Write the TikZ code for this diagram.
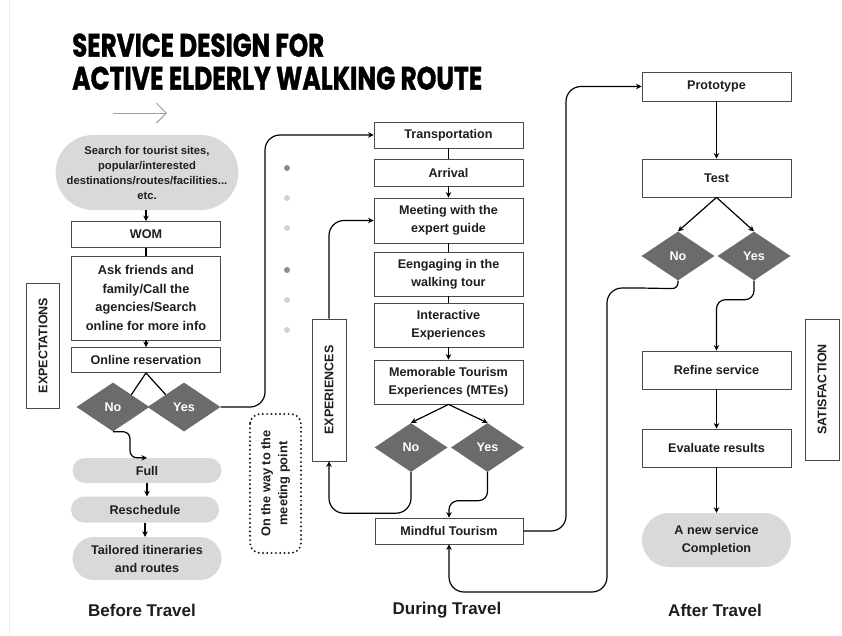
\documentclass[tikz,border=0pt]{standalone}
\usepackage{graphicx}
\usepackage{fontspec}
\setmainfont{Liberation Sans}
\newfontfamily\titlefont{Poppins}[BoldFeatures={FakeBold=1.3}]
\newfontfamily\tagfont{Liberation Sans}
\usetikzlibrary{shapes.geometric,shapes.misc,arrows.meta,calc}

\definecolor{ink}{HTML}{1E1E1E}
\definecolor{edge}{HTML}{4A4A4A}
\definecolor{pillgrey}{HTML}{D9D9D9}
\definecolor{diagrey}{HTML}{6B6B6B}
\definecolor{dotdark}{HTML}{8C8C8C}
\definecolor{dotlight}{HTML}{D2D2D2}
\definecolor{decogrey}{HTML}{A0A0A0}
\definecolor{pagerule}{HTML}{EEEEEE}

\tikzset{
  base/.style={font=\bfseries\fontsize{12.6}{18}\selectfont, text=ink, align=center, inner sep=0pt},
  stepbox/.style={base, draw=edge, line width=0.8pt, fill=white, minimum width=149pt},
  pill/.style={base, rounded rectangle, fill=pillgrey, minimum width=149pt},
  choice/.style={diamond, fill=diagrey, text=white, font=\bfseries\fontsize{12.6}{14}\selectfont,
                 minimum width=73pt, minimum height=49pt, inner sep=0pt},
  tag/.style={draw=edge, line width=0.8pt, minimum height=33pt, inner sep=0pt,
              font=\tagfont\bfseries\fontsize{12.5}{14}\selectfont, text=ink, rotate=90},
  waybox/.style={base, draw=ink, line width=2.2pt, dash pattern=on 0pt off 4.3pt, line cap=round,
                 rounded corners=10pt, rotate=90, font=\bfseries\fontsize{12.8}{17}\selectfont},
  arr/.style={-{Stealth[length=5.5pt,width=5.5pt]}, line width=1.2pt, draw=black},
  link/.style={line width=1.2pt, draw=black},
  phase/.style={font=\bfseries\fontsize{17}{20}\selectfont, text=ink, inner sep=0pt},
  dot/.style={radius=3pt},
}

\begin{document}
\begin{tikzpicture}[x=1pt,y=-1pt]
\useasboundingbox (0,0) rectangle (842,635);
\fill[white] (0,0) rectangle (842,635);
\draw[pagerule, line width=0.8pt] (9,0) -- (9,635);

% title
\node[anchor=south west, inner sep=0pt] (title1) at (72,57)
  {\resizebox{252pt}{23pt}{\titlefont\bfseries SERVICE DESIGN FOR}};
\node[anchor=south west, inner sep=0pt] (title2) at (72,90)
  {\resizebox{410pt}{23pt}{\titlefont\bfseries ACTIVE ELDERLY WALKING ROUTE}};

% decorative arrow
\coordinate (deco1) at (113,113);
\coordinate (deco2) at (167,113);
\draw[-{Straight Barb[length=10pt,width=20pt]}, draw=decogrey, line width=1pt] (deco1) -- (deco2);

% ---------- before travel ----------
\node[pill, minimum width=168pt, minimum height=75pt, font=\bfseries\fontsize{11.2}{15}\selectfont]
  (search) at (147,172.5) {Search for tourist sites,\\popular/interested\\destinations/routes/facilities...\\etc.};
\node[stepbox, minimum height=26pt] (wom) at (146,234.5) {WOM};
\node[stepbox, minimum height=84pt, font=\bfseries\fontsize{12.8}{18.6}\selectfont]
  (ask) at (146,298) {Ask friends and\\family/Call the\\agencies/Search\\online for more info};
\node[stepbox, minimum height=25pt] (online) at (146,360) {Online reservation};
\node[choice] (noL) at (113,407) {No};
\node[choice] (yesL) at (184,407) {Yes};
\node[pill, minimum height=25pt] (full) at (147,470.5) {Full};
\node[pill, minimum width=148pt, minimum height=26pt] (resched) at (145,509.5) {Reschedule};
\node[pill, minimum height=43pt] (tailored) at (147,558.5) {Tailored itineraries\\and routes};
\node[tag, minimum width=125pt] (expect) at (43,345.5) {EXPECTATIONS};
\node[phase] (ph1) at (142,610) {Before Travel};

% ---------- during travel ----------
\node[stepbox, minimum height=26pt] (transport) at (448.5,135) {Transportation};
\node[stepbox, minimum height=27pt] (arrival) at (448.5,172.5) {Arrival};
\node[stepbox, minimum height=45pt] (meeting) at (448.5,220.5) {Meeting with the\\expert guide};
\node[stepbox, minimum height=44pt] (engaging) at (448.5,274) {Eengaging in the\\walking tour};
\node[stepbox, minimum height=44pt] (interactive) at (448.5,325) {Interactive\\Experiences};
\node[stepbox, minimum height=44pt] (memorable) at (448.5,382) {Memorable Tourism\\Experiences (MTEs)};
\node[choice] (noM) at (411,447.5) {No};
\node[choice] (yesM) at (487.5,447.5) {Yes};
\node[stepbox, minimum width=148pt, minimum height=26pt] (mindful) at (449,531) {Mindful Tourism};
\node[tag, minimum width=142pt, minimum height=34pt] (exper) at (329,390) {EXPERIENCES};
\node[waybox, minimum width=139pt, minimum height=51pt] (way) at (275.5,483.5) {On the way to the\\meeting point};
\node[phase] (ph2) at (447,610) {During Travel};

% progress dots
\fill[dotdark]  (287,168) circle[dot];
\fill[dotlight] (287,198) circle[dot];
\fill[dotlight] (287,228) circle[dot];
\fill[dotdark]  (287,270) circle[dot];
\fill[dotlight] (287,300) circle[dot];
\fill[dotlight] (287,330) circle[dot];

% ---------- after travel ----------
\node[stepbox, minimum height=29pt] (proto) at (716.5,86.5) {Prototype};
\node[stepbox, minimum height=38pt] (test) at (716.5,178) {Test};
\node[choice] (noR) at (678,256) {No};
\node[choice] (yesR) at (754,256) {Yes};
\node[stepbox, minimum height=38pt] (refine) at (716.5,370) {Refine service};
\node[stepbox, minimum height=38pt] (evaluate) at (716.5,448) {Evaluate results};
\node[pill, minimum height=54pt] (done) at (716.5,540) {A new service\\Completion};
\node[tag, minimum width=141pt, minimum height=34pt] (satis) at (822,389.5) {SATISFACTION};
\node[phase] (ph3) at (715,610) {After Travel};

% ---------- connectors ----------
\coordinate (railL) at (265,300);
\coordinate (railR) at (566,300);
\coordinate (loopR) at (607,592);
\coordinate (bendR) at (640,288);

\draw[arr] (wom.north |- search.south) -- (wom.north);
\draw[link] (wom.south) -- (ask.north);
\draw[arr] (ask.south) -- (online.north);
\draw[link] (online.south) -- ($(noL.north)!0.5!(noL.east)$);
\draw[link] (online.south) -- ($(yesL.north)!0.5!(yesL.west)$);
\draw[arr, rounded corners=7pt] (noL.south) -- ++(17,0) |- (full.north);
\draw[arr] (full.south) -- (full.south |- resched.north);
\draw[arr] (resched.south) -- (resched.south |- tailored.north);
\draw[arr, rounded corners=15pt] (yesL.east) -| (railL) |- (transport.west);

\draw[link] (transport.south) -- (arrival.north);
\draw[arr] (arrival.south) -- (meeting.north);
\draw[link] (meeting.south) -- (engaging.north);
\draw[link] (engaging.south) -- (interactive.north);
\draw[arr] (interactive.south) -- (memorable.north);
\draw[arr] (memorable.south) -- (noM.north);
\draw[arr] (memorable.south) -- (yesM.north);
\draw[arr, rounded corners=15pt] (exper.east) |- (meeting.west);
\draw[arr, rounded corners=15pt] (noM.south) -- ++(0,41) -| (exper.west);
\draw[arr, rounded corners=9pt] (yesM.south) -- ++(0,28.5) -| (mindful.north);
\draw[arr, rounded corners=15pt] (mindful.east) -| (railR) |- (proto.west);

\draw[arr] (proto.south) -- (test.north);
\draw[arr] (test.south) -- (noR.north);
\draw[arr] (test.south) -- (yesR.north);
\draw[link, rounded corners=6pt] (noR.south) -- ++(0,8) -- (bendR);
\draw[arr, rounded corners=15pt] (bendR) -| (loopR) -| (mindful.south);
\draw[arr, rounded corners=9pt] (yesR.south) -- ++(0,19) -| (refine.north);
\draw[arr] (refine.south) -- (evaluate.north);
\draw[arr] (evaluate.south) -- (done.north);
\end{tikzpicture}
\end{document}
